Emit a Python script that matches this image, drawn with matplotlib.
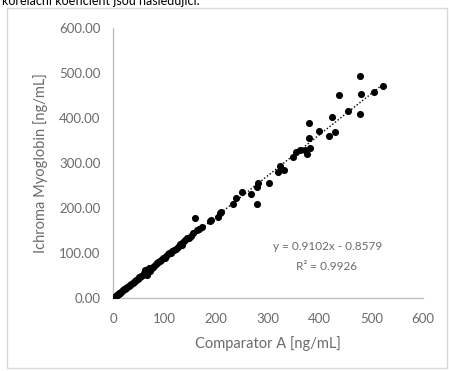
import numpy as np
import matplotlib
matplotlib.use("Agg")
import matplotlib.pyplot as plt
from matplotlib.patches import Rectangle

plt.rcParams['font.family'] = ['Lato', 'DejaVu Sans']

# comparator A [ng/mL] vs ichroma myoglobin [ng/mL]
comp_x = [3, 5, 6, 8, 9, 11, 12, 14, 16, 18, 20, 22, 24, 26, 28, 30, 33, 35, 38, 40,
          43, 45, 48, 50, 53, 55, 58, 60, 62, 65, 66, 68, 70, 72, 75, 78, 80, 83, 86, 88,
          90, 93, 96, 100, 103, 106, 108, 112, 115, 118, 122, 126, 130, 133, 136, 140,
          143, 147, 150, 155, 159, 162, 166, 172, 188, 190, 204, 207, 209, 233, 239,
          249, 268, 278, 278, 281, 301, 320, 323, 330, 349, 355, 362, 372, 376, 381,
          379, 379, 399, 419, 430, 424, 438, 455, 478, 480, 478, 505, 523]
ichroma_y = [2, 4, 5, 6, 8, 9, 11, 12, 14, 15, 18, 19, 21, 23, 25, 26, 29, 31, 34, 36,
             38, 41, 43, 46, 47, 50, 52, 55, 62, 58, 52, 63, 66, 60, 67, 70, 72, 75, 78, 80,
             82, 84, 88, 90, 93, 97, 100, 101, 104, 107, 110, 114, 120, 118, 124, 128,
             133, 134, 138, 144, 177, 151, 153, 158, 172, 173, 181, 188, 192, 209, 222,
             236, 231, 209, 247, 255, 256, 281, 293, 284, 314, 325, 329, 329, 321, 333,
             355, 388, 372, 360, 370, 403, 452, 415, 409, 453, 494, 457, 472]

slope, intercept = 0.9102, -0.8579
eq_text = "y = 0.9102x - 0.8579"
r2_text = "R² = 0.9926"

x_ticks = [0, 100, 200, 300, 400, 500, 600]
y_ticks = [0, 100, 200, 300, 400, 500, 600]

grey = '#6b6b6b'

fig = plt.figure(figsize=(4.49, 3.71), dpi=100)
ax = fig.add_axes([113/449, 1 - 298/371, 310/449, 270/371])

# chart frame and the cut-off text line above it
fig.patches.append(Rectangle((7/449, 1 - 368/371), 440/449, 360/371,
                             transform=fig.transFigure, fill=False,
                             edgecolor='#d9d9d9', lw=1))
fig.text(2/449, 1 - 5/371, "korelační koeficient jsou následující.",
         fontsize=9, color='black', va='baseline', ha='left')

ax.scatter(comp_x, ichroma_y, s=26, color='black', zorder=3, linewidths=0)
tx = np.array([min(comp_x), max(comp_x)])
ax.plot(tx, slope * tx + intercept, color='black', lw=1, ls=(0, (1, 1.5)), zorder=2)

ax.set_xlim(0, 600)
ax.set_ylim(0, 600)
ax.set_xticks(x_ticks)
ax.set_yticks(y_ticks)
ax.set_yticklabels(["%.2f" % v for v in y_ticks])

for s in ['top', 'right']:
    ax.spines[s].set_visible(False)
for s in ['left', 'bottom']:
    ax.spines[s].set_color('#bfbfbf')
    ax.spines[s].set_linewidth(1)
ax.tick_params(axis='both', length=0, labelsize=9.5, labelcolor=grey)
ax.tick_params(axis='y', pad=9)
ax.tick_params(axis='x', pad=11)

ax.set_xlabel("Comparator A [ng/mL]", fontsize=10.5, color=grey, labelpad=8)
ax.set_ylabel("Ichroma Myoglobin [ng/mL]", fontsize=10.5, color=grey, labelpad=8)

ax.text(415/600 * 600 - 0.0, 0, "", transform=ax.transData)
ax.text((328 - 113) / 310, (298 - 247) / 270, eq_text, transform=ax.transAxes,
        ha='center', va='center', fontsize=8.5, color=grey)
ax.text((327 - 113) / 310, (298 - 267) / 270, r2_text, transform=ax.transAxes,
        ha='center', va='center', fontsize=8.5, color=grey)

fig.savefig("out.png", dpi=100)
